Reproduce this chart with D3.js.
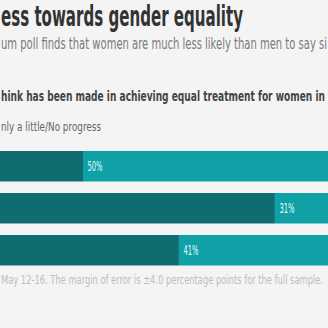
<!DOCTYPE html>
<html>
<head>
<meta charset="utf-8">
<script src="https://cdn.jsdelivr.net/npm/d3@7"></script>
<style>
  html, body { margin: 0; padding: 0; background: #f4f4f4; overflow: hidden; }
  svg { display: block; }
  text { font-family: "Liberation Sans Narrow", "DejaVu Sans Condensed", "Roboto", "Liberation Sans", sans-serif; }
</style>
</head>
<body>
<script>
// ---- data ----
const rows = ["row1", "row2", "row3"];
const progressValues = [50, 69, 59.5];      // dark segment (mostly off-canvas)
const littleValues = [50, 31, 41];          // "Only a little/No progress"
const littleLabels = ["50%", "31%", "41%"];
const titleText = "ess towards gender equality";
const subtitleText = "um poll finds that women are much less likely than men to say si";
const questionText = "hink has been made in achieving equal treatment for women in";
const legendText = "nly a little/No progress";
const noteText = "May 12-16. The margin of error is \u00b14.0 percentage points for the full sample.";

const W = 328, H = 328;
const svg = d3.select("body").append("svg").attr("width", W).attr("height", H);
svg.append("rect").attr("width", W).attr("height", H).attr("fill", "#f4f4f4");

// headings
svg.append("text").attr("x", 1).attr("y", 26)
  .attr("font-size", 29).attr("font-weight", 700).attr("fill", "#333")
  .attr("textLength", 242).attr("lengthAdjust", "spacingAndGlyphs")
  .text(titleText);
svg.append("text").attr("x", 1).attr("y", 49)
  .attr("font-size", 15).attr("fill", "#7a7a7a")
  .attr("textLength", 326).attr("lengthAdjust", "spacingAndGlyphs")
  .text(subtitleText);
svg.append("text").attr("x", 1).attr("y", 101)
  .attr("font-size", 13.5).attr("font-weight", 700).attr("fill", "#444")
  .attr("textLength", 324).attr("lengthAdjust", "spacingAndGlyphs")
  .text(questionText);
svg.append("text").attr("x", 1).attr("y", 131)
  .attr("font-size", 13).attr("fill", "#666")
  .attr("textLength", 100).attr("lengthAdjust", "spacingAndGlyphs")
  .text(legendText);

// scales
const x = d3.scaleLinear().domain([0, 100]).range([-422, 588]);
const y = d3.scaleBand().domain(rows).range([151, 265.5]).paddingInner(0.274).paddingOuter(0);

const data = rows.map((r, i) => ({ row: r, a: progressValues[i], b: littleValues[i], label: littleLabels[i] }));

const g = svg.append("g");
g.selectAll("rect.dark").data(data).join("rect").attr("class", "dark")
  .attr("x", d => x(0)).attr("y", d => y(d.row))
  .attr("width", d => x(d.a) - x(0)).attr("height", y.bandwidth())
  .attr("fill", "#0f6d71");
g.selectAll("rect.light").data(data).join("rect").attr("class", "light")
  .attr("x", d => x(d.a)).attr("y", d => y(d.row))
  .attr("width", d => x(d.a + d.b) - x(d.a)).attr("height", y.bandwidth())
  .attr("fill", "#0fa1a6");
g.selectAll("text.lab").data(data).join("text").attr("class", "lab")
  .attr("x", d => x(d.a) + 4.5).attr("y", d => y(d.row) + y.bandwidth() / 2 + 5)
  .attr("font-size", 14.5).attr("font-weight", 400).attr("fill", "#e4fafa")
  .attr("textLength", 15).attr("lengthAdjust", "spacingAndGlyphs")
  .text(d => d.label);

svg.append("text").attr("x", 1).attr("y", 284)
  .attr("font-size", 12).attr("fill", "#bdbdbd")
  .attr("textLength", 322).attr("lengthAdjust", "spacingAndGlyphs")
  .text(noteText);
</script>
</body>
</html>
